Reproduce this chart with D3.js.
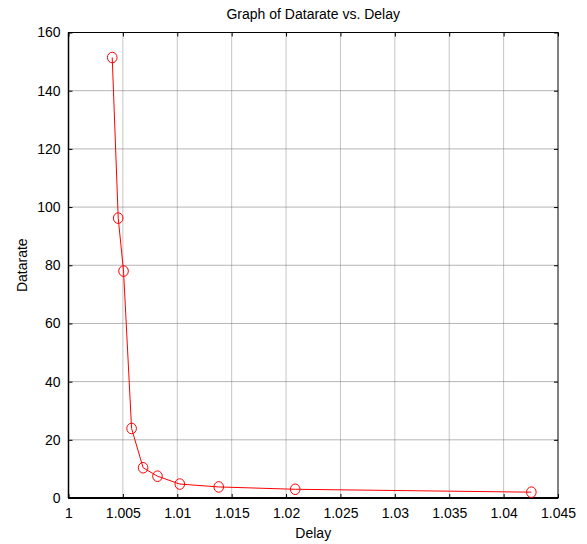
<!DOCTYPE html>
<html><head><meta charset="utf-8">
<script src="https://cdn.jsdelivr.net/npm/d3@7"></script>
<style>body{margin:0;background:#fff;} text{font-family:"Liberation Sans",Arial,sans-serif;fill:#000;}</style>
</head><body>
<svg id="c" width="587" height="544"></svg>
<script>
const delay = [1.00402, 1.00457, 1.00506, 1.0058, 1.00686, 1.00818, 1.01023, 1.01381, 1.02084, 1.04255];
const datarate = [151.4, 96.2, 78.0, 23.9, 10.4, 7.5, 4.8, 3.8, 3.0, 2.0];
const xTicks = [1, 1.005, 1.01, 1.015, 1.02, 1.025, 1.03, 1.035, 1.04, 1.045];
const yTicks = [0, 20, 40, 60, 80, 100, 120, 140, 160];
const title = "Graph of Datarate vs. Delay";
const xLabel = "Delay";
const yLabel = "Datarate";

const L = 68.5, R = 558, T = 32.5, B = 498;
const svg = d3.select("#c");
const x = d3.scaleLinear().domain([1, 1.045]).range([L, R]);
const y = d3.scaleLinear().domain([0, 160]).range([B, T]);

// grid
svg.append("g").selectAll("line").data(xTicks.slice(1, -1)).join("line")
  .attr("x1", d => x(d)).attr("x2", d => x(d)).attr("y1", T).attr("y2", B)
  .attr("stroke", "#8a8a8a").attr("stroke-width", 1).attr("stroke-dasharray", "1,1");
svg.append("g").selectAll("line").data(yTicks.slice(1, -1)).join("line")
  .attr("y1", d => y(d)).attr("y2", d => y(d)).attr("x1", L).attr("x2", R)
  .attr("stroke", "#6a6a6a").attr("stroke-width", 1).attr("stroke-dasharray", "1,1");

// axes
const fmt = d => d3.format("")(+d.toFixed(3));
const xAxis = d3.axisBottom(x).tickValues(xTicks).tickSize(-4).tickPadding(10).tickFormat(fmt);
const gx = svg.append("g").attr("transform", `translate(0,${B})`).call(xAxis);
const yAxis = d3.axisLeft(y).tickValues(yTicks).tickSize(-4).tickPadding(8).tickFormat(d3.format("d"));
const gy = svg.append("g").attr("transform", `translate(${L},0)`).call(yAxis);
const gxt = svg.append("g").attr("transform", `translate(0,${T})`).call(d3.axisTop(x).tickValues(xTicks).tickSize(-4).tickFormat(""));
const gyr = svg.append("g").attr("transform", `translate(${R},0)`).call(d3.axisRight(y).tickValues(yTicks).tickSize(-4).tickFormat(""));
[gx, gy, gxt, gyr].forEach(g => {
  g.select(".domain").remove();
  g.selectAll(".tick line").attr("stroke", "#000");
  g.selectAll(".tick text").style("font-size", "14px").style("font-family", "'Liberation Sans',Arial,sans-serif");
});
// box
svg.append("rect").attr("x", L).attr("y", T).attr("width", R - L).attr("height", B - T)
  .attr("fill", "none").attr("stroke", "#000").attr("stroke-width", 1);
svg.append("line").attr("x1", L).attr("x2", R).attr("y1", B).attr("y2", B).attr("stroke", "#000").attr("stroke-width", 2);
svg.append("line").attr("x1", L).attr("x2", L).attr("y1", T).attr("y2", B).attr("stroke", "#000").attr("stroke-width", 1.5);

// data
const pts = delay.map((d, i) => ({x: d, y: datarate[i]}));
svg.append("path").datum(pts)
  .attr("d", d3.line().x(d => x(d.x)).y(d => y(d.y)))
  .attr("fill", "none").attr("stroke", "#ff0000").attr("stroke-width", 1);
svg.append("g").selectAll("ellipse").data(pts).join("ellipse")
  .attr("cx", d => x(d.x)).attr("cy", d => y(d.y)).attr("rx", 4.8).attr("ry", 5.3)
  .attr("fill", "none").attr("stroke", "#ff0000").attr("stroke-width", 1);

// labels
svg.append("text").attr("x", (L + R) / 2).attr("y", 19).attr("text-anchor", "middle")
  .style("font-size", "14px").text(title);
svg.append("text").attr("x", (L + R) / 2).attr("y", 538).attr("text-anchor", "middle")
  .style("font-size", "14px").text(xLabel);
svg.append("text").attr("transform", `translate(27,${(T + B) / 2}) rotate(-90)`).attr("text-anchor", "middle")
  .style("font-size", "14px").text(yLabel);
</script>
</body></html>
